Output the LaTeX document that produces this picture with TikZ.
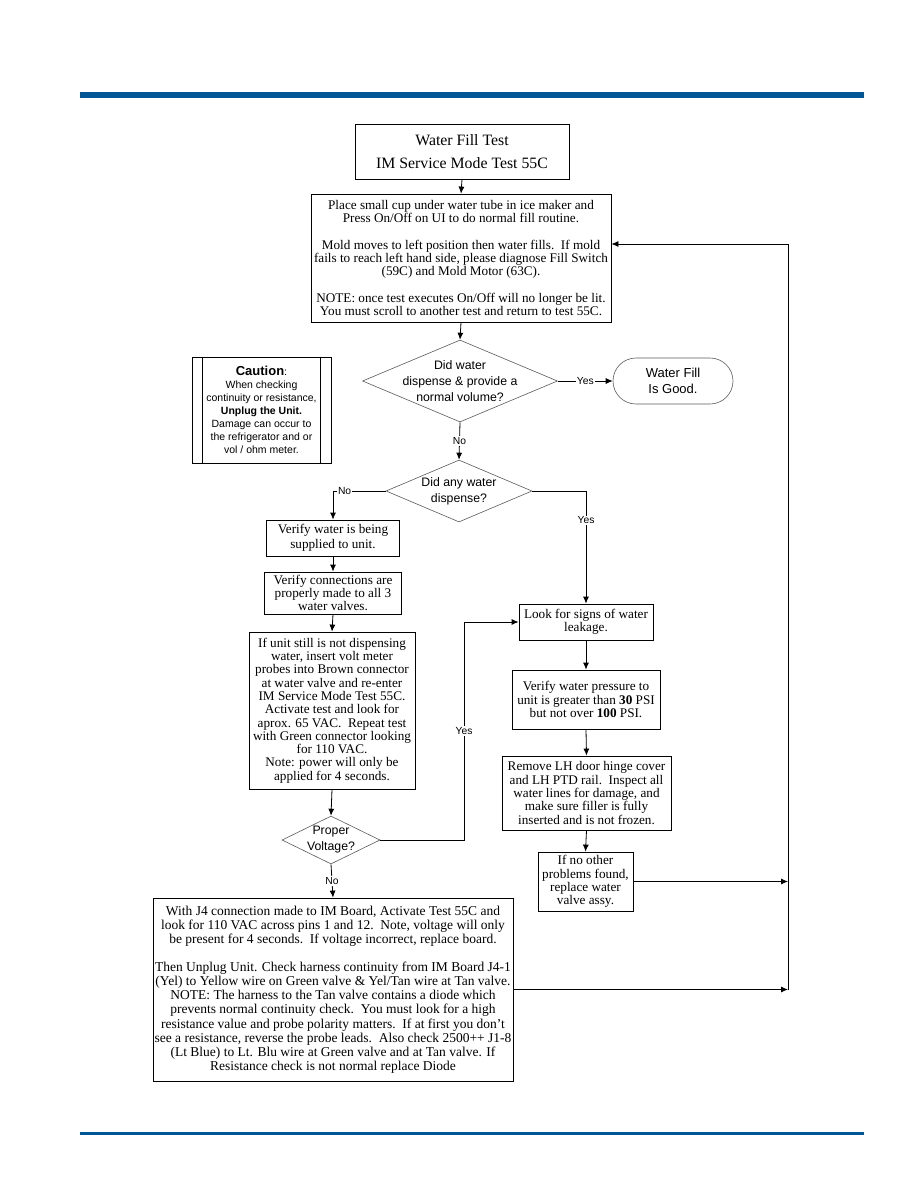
\documentclass[tikz,border=0pt]{standalone}
\usepackage{fontspec}
\setmainfont{Liberation Serif}
\setsansfont{Liberation Sans}
\usetikzlibrary{arrows.meta,shapes.geometric}
\definecolor{hdrblue}{RGB}{0,86,150}
\definecolor{dgray}{RGB}{90,90,90}
\tikzset{
  box/.style={draw, line width=0.8pt, fill=white, align=center, inner sep=0pt, font=\fontsize{13.2}{13.3}\selectfont},
  dia/.style={draw=dgray, line width=0.6pt, diamond, inner sep=0pt, fill=white},
  diatext/.style={align=center, inner sep=0pt, font=\sffamily\fontsize{12.3}{16}\selectfont},
  term/.style={draw=dgray, line width=0.6pt, rounded corners=23pt, align=center, inner sep=0pt, font=\sffamily\fontsize{13}{16.5}\selectfont},
  conn/.style={line width=0.8pt, -{Latex[length=7pt,width=6pt]}},
  plain/.style={line width=0.8pt},
  lbl/.style={fill=white, inner sep=1pt, font=\sffamily\fontsize{10.3}{12}\selectfont}
}
\begin{document}
\begin{tikzpicture}[x=1pt,y=-1pt]
\useasboundingbox (0,0) rectangle (918,1188);
% header / footer bars
\fill[hdrblue] (80,92) rectangle (864,98);
\fill[hdrblue] (80,1132) rectangle (864,1135);

% nodes
\node[box, minimum width=214, minimum height=55, font=\fontsize{15.8}{23}\selectfont] (title) at (462,151.5) {Water Fill Test\\IM Service Mode Test 55C};
\node[box, minimum width=300, minimum height=128, font=\fontsize{13.2}{13.2}\selectfont] (place) at (461,258) {Place small cup under water tube in ice maker and\\Press On/Off on UI to do normal fill routine.\\[13.2pt]Mold moves to left position then water fills.\ \ If mold\\fails to reach left hand side, please diagnose Fill Switch\\(59C) and Mold Motor (63C).\\[13.2pt]NOTE: once test executes On/Off will no longer be lit.\\You must scroll to another test and return to test 55C.};

\node[dia, minimum width=195, minimum height=82] (d1) at (460,381) {};
\node[diatext] (d1t) at (d1.center) {Did water\\dispense \& provide a\\normal volume?};

\node[term, minimum width=120, minimum height=46] (good) at (673,381) {Water Fill\\Is Good.};

\node[dia, minimum width=146, minimum height=62] (d2) at (459,491) {};
\node[diatext] (d2t) at (d2.center) {Did any water\\dispense?};

\node[box, minimum width=133, minimum height=36, font=\fontsize{13.2}{14.5}\selectfont] (supply) at (333,538) {Verify water is being\\supplied to unit.};
\node[box, minimum width=137, minimum height=42] (check) at (333,593) {Verify connections are\\properly made to all 3\\water valves.};
\node[box, minimum width=166, minimum height=157] (volt) at (332,710.5) {If unit still is not dispensing\\water, insert volt meter\\probes into Brown connector\\at water valve and re-enter\\IM Service Mode Test 55C.\\Activate test and look for\\aprox. 65 VAC.\ \ Repeat test\\with Green connector looking\\for 110 VAC.\\Note: power will only be\\applied for 4 seconds.};

\node[dia, minimum width=98, minimum height=48] (pv) at (331,840) {};
\node[diatext] (pvt) at (pv.center) {Proper\\Voltage?};

\node[box, minimum width=360, minimum height=183, font=\fontsize{13.5}{14.1}\selectfont] (board) at (333,989.5) {With J4 connection made to IM Board, Activate Test 55C and\\look for 110 VAC across pins 1 and 12.\ \ Note, voltage will only\\be present for 4 seconds.\ \ If voltage incorrect, replace board.\\[14.1pt]Then Unplug Unit. Check harness continuity from IM Board J4-1\\(Yel) to Yellow wire on Green valve \& Yel/Tan wire at Tan valve.\\NOTE: The harness to the Tan valve contains a diode which\\prevents normal continuity check.\ \ You must look for a high\\resistance value and probe polarity matters.\ \ If at first you don’t\\see a resistance, reverse the probe leads.\ \ Also check 2500++ J1-8\\(Lt Blue) to Lt. Blu wire at Green valve and at Tan valve. If\\Resistance check is not normal replace Diode};

\node[box, minimum width=134, minimum height=36] (look) at (586,622) {Look for signs of water\\leakage.};
\node[box, minimum width=148, minimum height=59] (press) at (586,699.5) {Verify water pressure to\\unit is greater than \textbf{30} PSI\\but not over \textbf{100} PSI.};
\node[box, minimum width=169, minimum height=74] (remove) at (586.5,793) {Remove LH door hinge cover\\and LH PTD rail.\ \ Inspect all\\water lines for damage, and\\make sure filler is fully\\inserted and is not frozen.};
\node[box, minimum width=95, minimum height=59] (other) at (585.5,881.5) {If no other\\problems found,\\replace water\\valve assy.};

\node[box, minimum width=139, minimum height=106, font=\sffamily\fontsize{10.5}{13.1}\selectfont] (caution) at (261.5,410) {{\fontsize{13}{13}\selectfont\textbf{Caution}}:\\When checking\\continuity or resistance,\\\textbf{Unplug the Unit.}\\Damage can occur to\\the refrigerator and or\\vol / ohm meter.};
\draw[plain] ([xshift=11]caution.north west) -- ([xshift=11]caution.south west);
\draw[plain] ([xshift=-11]caution.north east) -- ([xshift=-11]caution.south east);

% bus coordinates
\coordinate (busA) at (788,881.5);
\coordinate (busB) at (788,989.5);
\coordinate (busT) at (788,244);
\coordinate (pvR) at (464,840);
\coordinate (pvU) at (464,622);

% connectors
\draw[conn] (title.south) -- (place.north);
\draw[conn] (place.south) -- (d1.north);
\draw[conn] (d1.east) -- node[lbl] {Yes} (good.west);
\draw[conn] (d1.south) -- node[lbl] {No} (d2.north);
\draw[conn] (d2.west) -| node[lbl, pos=0.39] {No} (supply.north);
\draw[conn] (d2.east) -| node[lbl, pos=0.63] {Yes} (look.north);
\draw[conn] (supply.south) -- (check.north);
\draw[conn] (check.south) -- (volt.north);
\draw[conn] (volt.south) -- (pv.north);
\draw[conn] (pv.east) -- (pvR) -- node[lbl] {Yes} (pvU) -- (look.west);
\draw[conn] (pv.south) -- node[lbl] {No} (board.north);
\draw[conn] (look.south) -- (press.north);
\draw[conn] (press.south) -- (remove.north);
\draw[conn] (remove.south) -- (other.north);
\draw[conn] (other.east) -- (busA);
\draw[conn] (board.east) -- (busB);
\draw[conn] (busB) -- (busT) -- (place.east |- busT);
\end{tikzpicture}
\end{document}
